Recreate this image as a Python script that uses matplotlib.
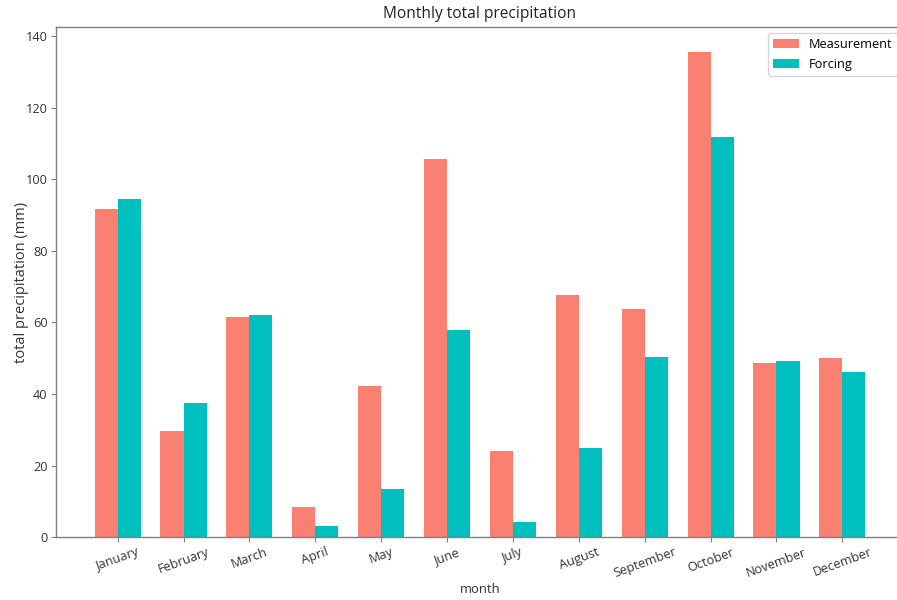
import matplotlib
matplotlib.use("Agg")
import matplotlib.pyplot as plt
import numpy as np

months = ["January", "February", "March", "April", "May", "June", "July",
          "August", "September", "October", "November", "December"]
measurement = [91.8, 29.6, 61.6, 8.4, 42.2, 105.6, 24.2, 67.7, 63.8, 135.6, 48.6, 50.0]
forcing = [94.4, 37.6, 62.0, 3.2, 13.4, 57.9, 4.3, 25.0, 50.3, 111.7, 49.3, 46.1]
yticks = [0, 20, 40, 60, 80, 100, 120, 140]

plt.rcParams['font.family'] = ['Open Sans', 'DejaVu Sans']
fs = 9.2

fig = plt.figure(figsize=(8.97, 6.0), dpi=100)
ax = fig.add_axes([56 / 897, 62.7 / 600, 848 / 897, 510.6 / 600])

x = np.arange(len(months))
w = 0.35
ax.bar(x - w / 2, measurement, w, color="salmon", label="Measurement")
ax.bar(x + w / 2, forcing, w, color="#00bfbf", label="Forcing")

ax.set_xticks(x)
ax.set_xticklabels(months, rotation=20, fontsize=fs, color="#333333")
ax.set_yticks(yticks)
ax.set_yticklabels([str(v) for v in yticks], fontsize=fs, color="#333333")
ax.set_xlim(-0.936, 11.936)
ax.set_ylim(0, 142.6)

for s in ax.spines.values():
    s.set_color("#808080")
    s.set_linewidth(1.0)
ax.tick_params(colors="#808080", labelcolor="#333333", length=3.5)
ax.tick_params(axis="x", pad=2.5)
ax.tick_params(axis="y", pad=2.5)

ax.set_title("Monthly total precipitation", fontsize=11.2, color="#222222", pad=6)
ax.set_xlabel("month", fontsize=9.4, color="#333333", labelpad=2)
ax.set_ylabel("total precipitation (mm)", fontsize=10.5, color="#333333", labelpad=-2)

ax.legend(loc="upper right", fontsize=fs, frameon=True, borderaxespad=0.5)

fig.savefig("out.png", dpi=100)
